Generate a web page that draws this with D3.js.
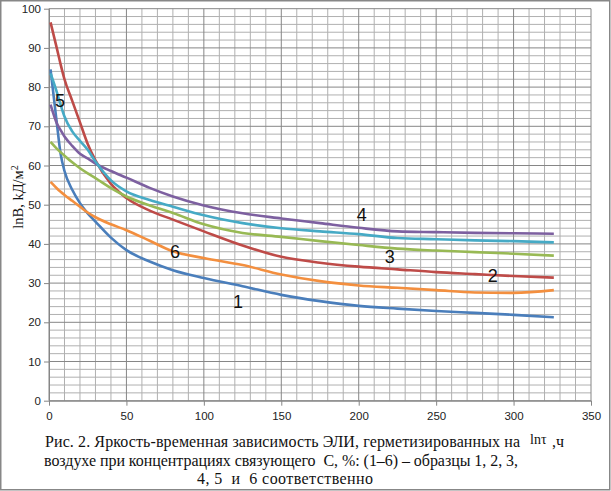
<!DOCTYPE html>
<html>
<head>
<meta charset="utf-8">
<script src="https://cdn.jsdelivr.net/npm/d3@7"></script>
<style>
  body { margin: 0; background: #fff; }
  svg { display: block; }
</style>
</head>
<body>
<div id="viz"></div>
<script>
// time, h
const times = [1, 5, 7.5, 10, 15, 20, 25, 30, 40, 50, 65, 80, 100, 125, 150, 175, 200, 225, 250, 275, 300, 326];

// lnB for samples 1..6
const s1 = [84.5, 71.0, 63.0, 58.6, 53.8, 50.4, 47.8, 45.7, 41.6, 38.4, 35.5, 33.3, 31.3, 29.2, 27.0, 25.4, 24.2, 23.5, 22.9, 22.4, 21.9, 21.3];
const s2 = [96.5, 90.0, 85.8, 82.0, 76.5, 71.0, 65.5, 61.3, 55.3, 51.7, 48.5, 46.2, 43.2, 39.6, 36.7, 35.2, 34.2, 33.5, 32.8, 32.3, 31.8, 31.4];
const s3 = [66.0, 64.3, 63.4, 62.5, 60.8, 59.3, 58.0, 56.8, 54.2, 52.1, 49.8, 47.9, 45.0, 42.8, 41.8, 40.7, 39.7, 38.8, 38.3, 37.9, 37.5, 37.0];
const s4 = [75.5, 70.8, 69.0, 67.4, 65.0, 63.0, 61.8, 60.5, 58.6, 56.9, 54.3, 52.1, 49.8, 47.8, 46.5, 45.3, 44.1, 43.2, 43.0, 42.8, 42.7, 42.6];
const s5 = [83.5, 78.8, 75.5, 72.5, 68.7, 66.3, 64.0, 61.0, 56.2, 53.4, 51.2, 49.5, 47.3, 45.3, 44.0, 43.2, 42.5, 41.5, 41.2, 40.9, 40.7, 40.4];
const s6 = [55.8, 54.2, 53.3, 52.5, 51.0, 49.5, 48.0, 46.8, 45.0, 43.5, 40.8, 38.1, 36.4, 34.6, 32.2, 30.5, 29.4, 28.8, 28.2, 27.6, 27.5, 28.2];

const seriesNames = ["1", "2", "3", "4", "5", "6"];
const seriesColors = ["#4a7ebb", "#be4b48", "#98b954", "#7d60a0", "#46aac5", "#f38f3f"];

// where the curve numbers sit (in data units)
const labelX = [122, 286.5, 220, 202, 7.1, 81.3];
const labelY = [25.3, 31.9, 36.7, 47.3, 76.5, 37.9];

const xTicks = [0, 50, 100, 150, 200, 250, 300, 350];
const yTicks = [0, 10, 20, 30, 40, 50, 60, 70, 80, 90, 100];

const W = 611, H = 491;
const margin = { left: 49, top: 8.7 };
const innerW = 591 - margin.left;
const innerH = 400.7 - margin.top;
const nb = "\u00a0";

const svg = d3.select("#viz").append("svg").attr("width", W).attr("height", H);

svg.append("rect")
    .attr("x", 0.75).attr("y", 0.75)
    .attr("width", W - 2).attr("height", H - 2)
    .attr("fill", "#fff").attr("stroke", "#878787").attr("stroke-width", 1.5);

const g = svg.append("g").attr("transform", `translate(${margin.left},${margin.top})`);

const x = d3.scaleLinear().domain([0, 350]).range([0, innerW]);
const y = d3.scaleLinear().domain([0, 100]).range([innerH, 0]);

// minor grid
g.append("g").selectAll("line").data(d3.range(0, 351, 10).filter(d => d % 50 !== 0)).join("line")
    .attr("x1", d => x(d)).attr("x2", d => x(d)).attr("y1", 0).attr("y2", innerH)
    .attr("stroke", "#b0b0b0").attr("stroke-width", 1);
g.append("g").selectAll("line").data(d3.range(0, 101, 2).filter(d => d % 10 !== 0)).join("line")
    .attr("x1", 0).attr("x2", innerW).attr("y1", d => y(d)).attr("y2", d => y(d))
    .attr("stroke", "#b0b0b0").attr("stroke-width", 1);
// major grid
g.append("g").selectAll("line").data(xTicks).join("line")
    .attr("x1", d => x(d)).attr("x2", d => x(d)).attr("y1", 0).attr("y2", innerH)
    .attr("stroke", "#868686").attr("stroke-width", 1);
g.append("g").selectAll("line").data(yTicks).join("line")
    .attr("x1", 0).attr("x2", innerW).attr("y1", d => y(d)).attr("y2", d => y(d))
    .attr("stroke", "#868686").attr("stroke-width", 1);

// axes
const axisX = g.append("g").attr("transform", `translate(0,${innerH})`)
    .call(d3.axisBottom(x).tickValues(xTicks).tickSize(5).tickSizeOuter(0).tickPadding(6));
const axisY = g.append("g")
    .call(d3.axisLeft(y).tickValues(yTicks).tickSize(5).tickSizeOuter(0).tickPadding(3));
[axisX, axisY].forEach(a => {
    a.select(".domain").attr("stroke", "#868686");
    a.selectAll(".tick line").attr("stroke", "#868686");
    a.selectAll("text").attr("font-family", "Liberation Sans, Arial, sans-serif")
        .attr("font-size", 11.5).attr("fill", "#222");
});

// curves
const allSeries = [s1, s2, s3, s4, s5, s6];
const line = d3.line()
    .x((d, i) => x(times[i]))
    .y(d => y(d))
    .curve(d3.curveMonotoneX);

g.append("g").selectAll("path").data(allSeries).join("path")
    .attr("d", d => line(d))
    .attr("fill", "none")
    .attr("stroke", (d, i) => seriesColors[i])
    .attr("stroke-width", 2.6)
    .attr("stroke-linejoin", "round");

g.append("g").selectAll("text").data(seriesNames).join("text")
    .attr("x", (d, i) => x(labelX[i]))
    .attr("y", (d, i) => y(labelY[i]) + 6)
    .attr("text-anchor", "middle")
    .attr("font-family", "Liberation Sans, Arial, sans-serif")
    .attr("font-size", 18)
    .attr("fill", "#111")
    .text(d => d);

// y axis title
svg.append("text")
    .attr("transform", "translate(23,197) rotate(-90)")
    .attr("text-anchor", "middle")
    .attr("font-family", "Liberation Serif, Times New Roman, serif")
    .attr("font-size", 14.5)
    .attr("fill", "#111")
    .html('lnB, kД/м<tspan dy="-5" font-size="10">2</tspan>');

// caption
const cap = svg.append("g")
    .attr("font-family", "Liberation Serif, Times New Roman, serif")
    .attr("font-size", 16)
    .attr("fill", "#111");
cap.append("text").attr("x", 45).attr("y", 447).attr("textLength", 475)
    .text("Рис. 2. Яркость-временная зависимость ЭЛИ, герметизированных на");
cap.append("text").attr("x", 530).attr("y", 444).attr("font-size", 14).text("lnτ");
cap.append("text").attr("x", 552).attr("y", 447).text(",ч");
cap.append("text").attr("x", 44).attr("y", 466).attr("textLength", 474)
    .text(`воздухе при концентрациях связующего${nb}${nb}С, %: (1–6) – образцы 1, 2, 3,`);
cap.append("text").attr("x", 197).attr("y", 484).attr("textLength", 176)
    .text(`4, 5${nb}${nb}и${nb}${nb}6 соответственно`);
</script>
</body>
</html>
